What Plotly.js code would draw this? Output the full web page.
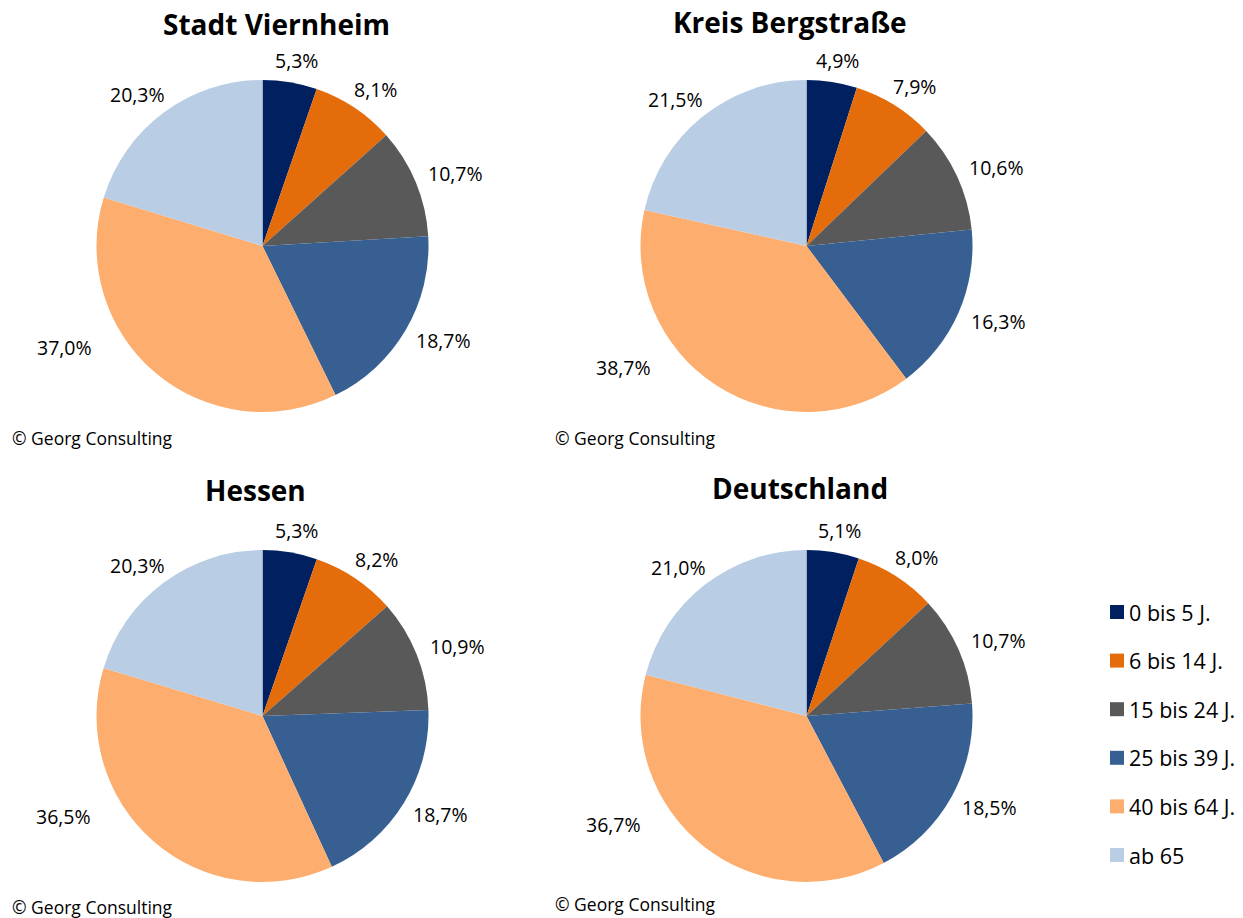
<!DOCTYPE html>
<html>
<head>
<meta charset="utf-8">
<script src="https://cdn.plot.ly/plotly-3.0.1.min.js"></script>
<style>html,body{margin:0;padding:0;background:#fff;}#chart{width:1243px;height:918px;}</style>
</head>
<body>
<div id="chart"></div>
<script>
// ---- data ----
const categories = ['0 bis 5 J.', '6 bis 14 J.', '15 bis 24 J.', '25 bis 39 J.', '40 bis 64 J.', 'ab 65'];
const regions = ['Stadt Viernheim', 'Kreis Bergstraße', 'Hessen', 'Deutschland'];
const viernheim   = [5.3, 8.1, 10.7, 18.7, 37.0, 20.3];
const bergstrasse = [4.9, 7.9, 10.6, 16.3, 38.7, 21.5];
const hessen      = [5.3, 8.2, 10.9, 18.7, 36.5, 20.3];
const deutschland = [5.1, 8.0, 10.7, 18.5, 36.7, 21.0];
const copyright = '© Georg Consulting';

// ---- styling / layout constants ----
const W = 1243, H = 918;
const colors = ['#002060', '#E46C0A', '#595959', '#375F91', '#FDAE6F', '#B9CDE5'];
const FONT = 'Open Sans, Noto Sans, sans-serif';
const R = 166;
const boxes = [
  {cx: 262.5, cy: 246, tx: 276, ty: 24, cpx: 10, cpy: 438},
  {cx: 806.5, cy: 246, tx: 790, ty: 22, cpx: 553, cpy: 438},
  {cx: 262.5, cy: 716, tx: 256, ty: 490, cpx: 10, cpy: 907},
  {cx: 806.5, cy: 716, tx: 800, ty: 488, cpx: 553, cpy: 904}
];
const seriesList = [viernheim, bergstrasse, hessen, deutschland];

const px = x => x / W;
const py = y => 1 - y / H;
const fmt = v => v.toFixed(1).replace('.', ',') + '%';

const traces = [];
const annotations = [];
const shapes = [];

seriesList.forEach((vals, k) => {
  const b = boxes[k];
  traces.push({
    type: 'pie',
    values: vals,
    labels: categories,
    sort: false,
    direction: 'clockwise',
    rotation: 0,
    marker: {colors: colors, line: {width: 0}},
    textinfo: 'none',
    hoverinfo: 'label+value',
    showlegend: false,
    domain: {x: [px(b.cx - R), px(b.cx + R)], y: [py(b.cy + R), py(b.cy - R)]}
  });
  // title
  annotations.push({
    text: '<b>' + regions[k] + '</b>', x: px(b.tx), y: py(b.ty), xref: 'paper', yref: 'paper',
    xanchor: 'center', yanchor: 'middle', showarrow: false,
    font: {family: FONT, size: 28, color: '#000'}
  });
  // copyright
  annotations.push({
    text: copyright, x: px(b.cpx), y: py(b.cpy), xref: 'paper', yref: 'paper',
    xanchor: 'left', yanchor: 'middle', showarrow: false,
    font: {family: FONT, size: 17.5, color: '#000'}
  });
  // data labels
  const total = vals.reduce((a, c) => a + c, 0);
  let cum = 0;
  vals.forEach((v, i) => {
    const big = v / total > 0.3;
    const f = big ? 0.65 : 0.5;
    const th = 2 * Math.PI * (cum + v * f) / total;
    cum += v;
    const ux = Math.sin(th), uy = -Math.cos(th);
    const t = fmt(v);
    const w = t.length * 11, h = 12, g = big ? 34 : 16;
    const x = b.cx + ux * (R + g) + ux * w / 2;
    const y = b.cy + uy * (R + g) + uy * h / 2;
    annotations.push({
      text: t, x: px(x), y: py(y), xref: 'paper', yref: 'paper',
      xanchor: 'center', yanchor: 'middle', showarrow: false,
      font: {family: FONT, size: 19.5, color: '#000'}
    });
  });
});

// custom legend
const legX = 1110, legY0 = 612, legDy = 48.6, sq = 14;
categories.forEach((c, i) => {
  const yc = legY0 + i * legDy;
  shapes.push({
    type: 'rect', xref: 'paper', yref: 'paper',
    x0: px(legX), x1: px(legX + sq), y0: py(yc + sq / 2), y1: py(yc - sq / 2),
    fillcolor: colors[i], line: {width: 0}
  });
  annotations.push({
    text: c, x: px(legX + sq + 3), y: py(yc), xref: 'paper', yref: 'paper',
    xanchor: 'left', yanchor: 'middle', showarrow: false,
    font: {family: FONT, size: 21.5, color: '#000'}
  });
});

const layout = {
  width: W, height: H,
  margin: {l: 0, r: 0, t: 0, b: 0},
  paper_bgcolor: '#fff',
  showlegend: false,
  annotations: annotations,
  shapes: shapes
};

Plotly.newPlot('chart', traces, layout, {displayModeBar: false, staticPlot: true});
</script>
</body>
</html>
